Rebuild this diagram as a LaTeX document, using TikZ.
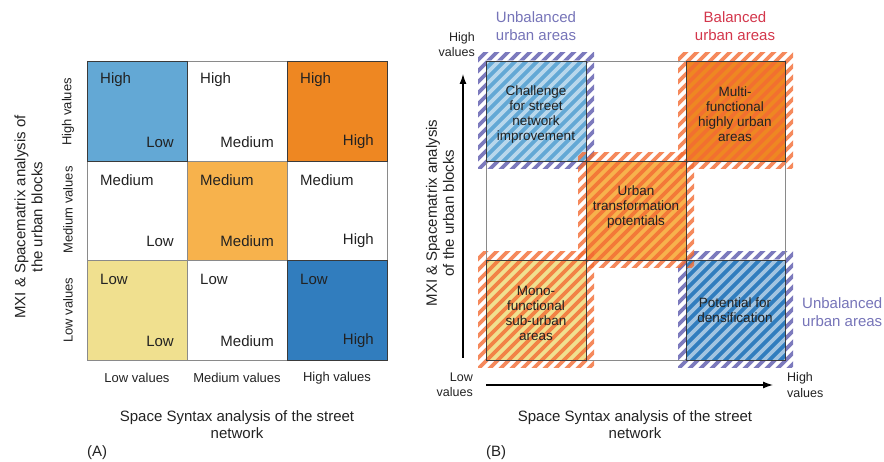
\documentclass[tikz,border=0pt]{standalone}
\usepackage{fontspec}
\setmainfont{Liberation Sans}
\usetikzlibrary{arrows.meta}

\definecolor{lightblue}{HTML}{63A8D5}
\definecolor{darkblue}{HTML}{317DBE}
\definecolor{hiorange}{HTML}{EE8722}
\definecolor{midorange}{HTML}{F7B24C}
\definecolor{lowyellow}{HTML}{F0E08F}
\definecolor{stripepurple}{HTML}{7C7ABD}
\definecolor{stripeorange}{HTML}{F36B33}
\definecolor{purpletxt}{HTML}{7674B8}
\definecolor{redtxt}{HTML}{D3364B}
\definecolor{gridgray}{HTML}{8A8A8A}
\definecolor{darkline}{HTML}{3A3A3A}
\definecolor{txt}{HTML}{222222}

% striped square round a cell: x1 y1 x2 y2 style
\newcommand{\hatchcell}[5]{%
  \begin{scope}
    \clip (#1-8,#2-8) rectangle (#3+8,#4+8);
    \foreach \k in {-132,-121,...,132}
      \draw[line width=3.6pt, #5] (#1+\k,#4+12) -- ++(150,-150);
  \end{scope}}
% white stripes inside a blue cell
\newcommand{\lightstripes}[4]{%
  \begin{scope}
    \clip (#1,#2) rectangle (#3,#4);
    \foreach \k in {-132,-121,...,132}
      \draw[line width=3.6pt, white, opacity=0.55] (#1+\k,#4+12) -- ++(150,-150);
  \end{scope}}

\begin{document}
\begin{tikzpicture}[x=1pt, y=-1pt,
  grid/.style={draw=gridgray, line width=0.9pt},
  cellline/.style={draw=darkline, line width=0.9pt},
  val/.style={font=\fontsize{15}{17}\selectfont, text=txt, inner sep=0pt},
  axlbl/.style={font=\fontsize{13}{15}\selectfont, text=txt, inner sep=0pt},
  title/.style={font=\fontsize{15}{17}\selectfont, text=txt, align=center, inner sep=0pt},
  area/.style={font=\fontsize{15}{18}\selectfont, align=center, inner sep=0pt},
  inside/.style={font=\fontsize{13.5}{15}\selectfont, text=txt, align=center, inner sep=0pt},
  ends/.style={font=\fontsize{12.5}{15.5}\selectfont, text=txt, inner sep=0pt},
  axis/.style={line width=1.3pt, -{Latex[length=10pt,width=7pt]}}]
  \useasboundingbox (0,0) rectangle (884,462);
  %
  % ---------------- (A) ----------------
  \fill[lightblue] (87,61) rectangle (187,161);     % top left cell
  \fill[hiorange] (287,61) rectangle (387,161);     % top right cell
  \fill[midorange] (187,161) rectangle (287,260);   % centre cell
  \fill[lowyellow] (87,260) rectangle (187,360);    % bottom left cell
  \fill[darkblue] (287,260) rectangle (387,360);    % bottom right cell
  %
  \draw[grid] (87,61) -- (387,61);   % rows
  \draw[grid] (87,161) -- (387,161);
  \draw[grid] (87,260) -- (387,260);
  \draw[grid] (87,360) -- (387,360);
  %
  \draw[grid] (87,61) -- (87,360);   % cols
  \draw[grid] (187,61) -- (187,360);
  \draw[grid] (287,61) -- (287,360);
  \draw[grid] (387,61) -- (387,360);
  %
  \draw[cellline] (87,61) rectangle (187,161);
  \draw[cellline] (287,61) rectangle (387,161);
  \draw[cellline] (287,260) rectangle (387,360);
  %
  \node[val, anchor=west] (a11) at (100,80) {High};       % first row
  \node[val, anchor=east] (b11) at (174,142) {Low};
  \node[val, anchor=west] (a12) at (200,80) {High};
  \node[val, anchor=east] (b12) at (274,142) {Medium};
  \node[val, anchor=west] (a13) at (300,80) {High};
  \node[val, anchor=east] (b13) at (374,142) {High};
  %%
  \node[val, anchor=west] (a21) at (100,180) {Medium};    % second row
  \node[val, anchor=east] (b21) at (174,241) {Low};
  \node[val, anchor=west] (a22) at (200,180) {Medium};
  \node[val, anchor=east] (b22) at (274,241) {Medium};
  \node[val, anchor=west] (a23) at (300,180) {Medium};
  \node[val, anchor=east] (b23) at (374,241) {High};
  %%
  \node[val, anchor=west] (a31) at (100,279) {Low};       % third row
  \node[val, anchor=east] (b31) at (174,341) {Low};
  \node[val, anchor=west] (a32) at (200,279) {Low};
  \node[val, anchor=east] (b32) at (274,341) {Medium};
  \node[val, anchor=west] (a33) at (300,279) {Low};
  \node[val, anchor=east] (b33) at (374,341) {High};
  %
  \node[axlbl, rotate=90] (rowhi) at (68,112) {High values};
  \node[axlbl, rotate=90] (rowmed) at (68,210) {Medium values};
  \node[axlbl, rotate=90] (rowlo) at (68,310) {Low values};
  \node[axlbl] (collo) at (137,378) {Low values};
  \node[axlbl] (colmed) at (237,378) {Medium values};
  \node[axlbl] (colhi) at (337,378) {High values};
  %
  \node[title, rotate=90] (ytitleA) at (28.5,217) {MXI \& Spacematrix analysis of\\the urban blocks};
  \node[title] (xtitleA) at (237,424.5) {Space Syntax analysis of the street\\network};
  \node[title, anchor=west] (capA) at (87,453) {(A)};
  %
  % ---------------- (B) ----------------
  \hatchcell{486}{61}{586}{161}{stripepurple}            % top left
  \fill[lightblue] (486,61) rectangle (586,161);
  \lightstripes{486}{61}{586}{161}
  %
  \hatchcell{686}{260}{785}{360}{stripepurple}           % bottom right
  \fill[darkblue] (686,260) rectangle (785,360);
  \lightstripes{686}{260}{785}{360}
  %
  \fill[midorange] (586,161) rectangle (686,260);        % centre
  \hatchcell{586}{161}{686}{260}{stripeorange, opacity=0.8}
  \fill[hiorange] (686,61) rectangle (785,161);          % top right
  \hatchcell{686}{61}{785}{161}{stripeorange, opacity=0.8}
  \fill[lowyellow] (486,260) rectangle (586,360);        % bottom left
  \hatchcell{486}{260}{586}{360}{stripeorange, opacity=0.8}
  %
  \draw[grid] (486,61) -- (785,61);   % rows
  \draw[grid] (486,161) -- (785,161);
  \draw[grid] (486,260) -- (785,260);
  \draw[grid] (486,360) -- (785,360);
  %
  \draw[grid] (486,61) -- (486,360);  % cols
  \draw[grid] (586,61) -- (586,360);
  \draw[grid] (686,61) -- (686,360);
  \draw[grid] (785,61) -- (785,360);
  %
  \draw[cellline] (486,61) rectangle (586,161);
  \draw[cellline] (686,61) rectangle (785,161);
  \draw[cellline] (586,161) rectangle (686,260);
  \draw[cellline] (486,260) rectangle (586,360);
  \draw[cellline] (686,260) rectangle (785,360);
  %
  \node[inside] (challenge) at (536,114.5) {Challenge\\for street\\network\\improvement};
  \node[inside] (multi) at (735,114.5) {Multi-\\functional\\highly urban\\areas};
  \node[inside] (transf) at (636,207) {Urban\\transformation\\potentials};
  \node[inside] (mono) at (536,313.5) {Mono-\\functional\\sub-urban\\areas};
  \node[inside] (dens) at (735,310.5) {Potential for\\densification};
  %
  \node[area, text=purpletxt] (unbaltop) at (536,26) {Unbalanced\\urban areas};
  \node[area, text=redtxt] (baltop) at (735,26) {Balanced\\urban areas};
  \node[area, text=purpletxt, anchor=west, align=left] (unbalright) at (802,312.5) {Unbalanced\\urban areas};
  %
  \node[ends, anchor=east, align=right] (yhigh) at (475,44.5) {High\\values};
  \node[ends, anchor=east, align=right] (xlow) at (473,385) {Low\\values};
  \node[ends, anchor=west, align=left] (xhigh) at (787,385) {High\\values};
  %
  \coordinate (yfoot) at (463,358);
  \coordinate (ytip) at (463,74);
  \coordinate (xfoot) at (486,385);
  \coordinate (xtip) at (773,385);
  \draw[axis] (yfoot) -- (ytip);
  \draw[axis] (xfoot) -- (xtip);
  %
  \node[title, rotate=90] (ytitleB) at (440,213) {MXI \& Spacematrix analysis\\of the urban blocks};
  \node[title] (xtitleB) at (635,425) {Space Syntax analysis of the street\\network};
  \node[title, anchor=west] (capB) at (486,453) {(B)};
\end{tikzpicture}
\end{document}
